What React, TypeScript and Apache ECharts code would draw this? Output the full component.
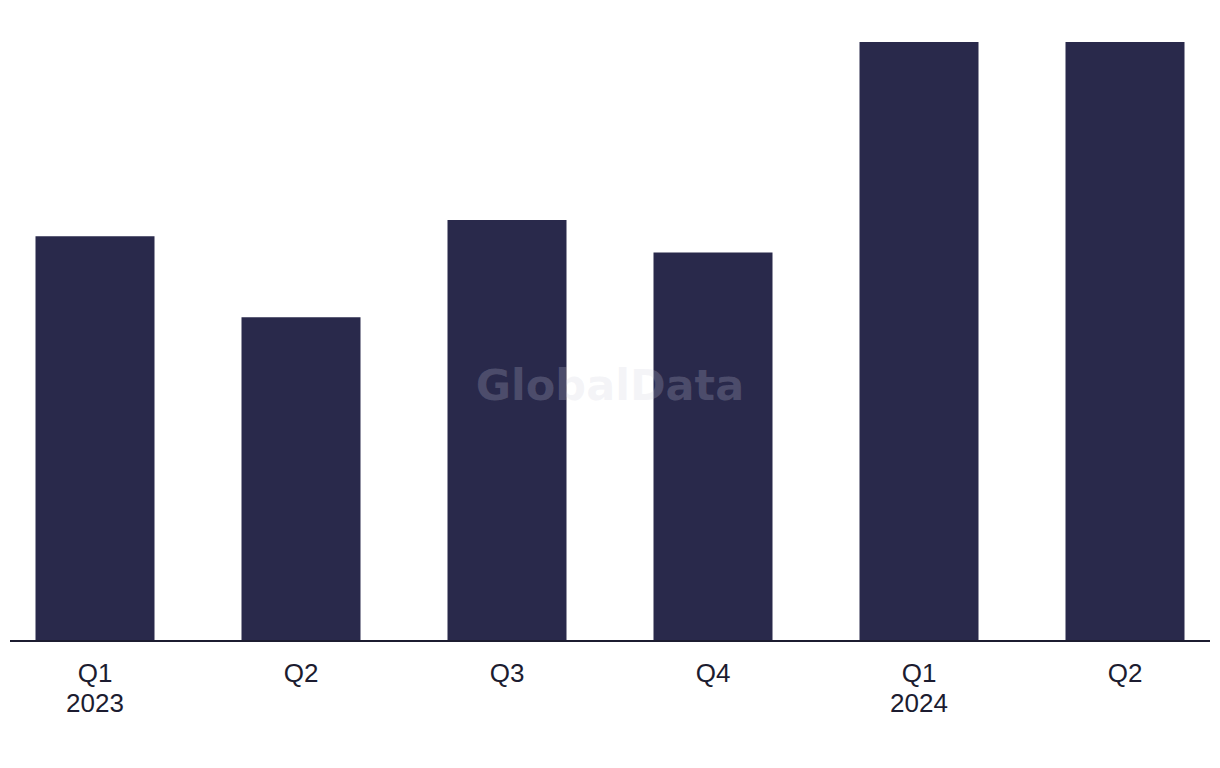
import React, { useEffect, useRef } from "react";
import * as echarts from "echarts";

const categories: string[] = ["Q1\n2023", "Q2", "Q3", "Q4", "Q1\n2024", "Q2"];
const dealValues: number[] = [25, 20, 26, 24, 37, 37];
const yMax = 37;

export default function App() {
  const ref = useRef<HTMLDivElement>(null);
  useEffect(() => {
    if (!ref.current) return;
    const chart = echarts.init(ref.current, null, { renderer: "svg" });
    chart.setOption({
      animation: false,
      backgroundColor: "#ffffff",
      grid: { left: 0, right: 0, top: 42, bottom: 127, containLabel: false },
      xAxis: {
        type: "category",
        data: categories,
        axisLine: { show: false },
        axisTick: { show: false },
        axisLabel: {
          color: "#1c1c30",
          fontSize: 26,
          lineHeight: 30,
          margin: 17,
          fontFamily: "Liberation Sans, Arial, sans-serif",
          interval: 0,
        },
      },
      yAxis: {
        type: "value",
        min: 0,
        max: yMax,
        show: false,
        splitLine: { show: false },
      },
      series: [
        {
          type: "bar",
          data: dealValues,
          barWidth: 119,
          itemStyle: { color: "#29294b" },
        },
      ],
      graphic: [
        {
          type: "line",
          shape: { x1: 18, y1: 641, x2: 1218, y2: 641 },
          style: { stroke: "#1c1c30", lineWidth: 2 },
          z: 10,
        },
        {
          type: "text",
          x: 618,
          y: 385,
          z: 20,
          style: {
            text: "GlobalData",
            fill: "rgba(205,205,222,0.22)",
            font: "bold 43px 'DejaVu Sans', sans-serif",
            textAlign: "center",
            textVerticalAlign: "middle",
          },
        },
      ],
    });
    return () => chart.dispose();
  }, []);
  return (
    <div style={{ position: "absolute", left: 0, top: 0, width: 1220, height: 768, overflow: "hidden" }}>
      <div
        ref={ref}
        style={{ position: "absolute", left: -8, top: 0, width: 1236, height: 768 }}
      />
    </div>
  );
}
